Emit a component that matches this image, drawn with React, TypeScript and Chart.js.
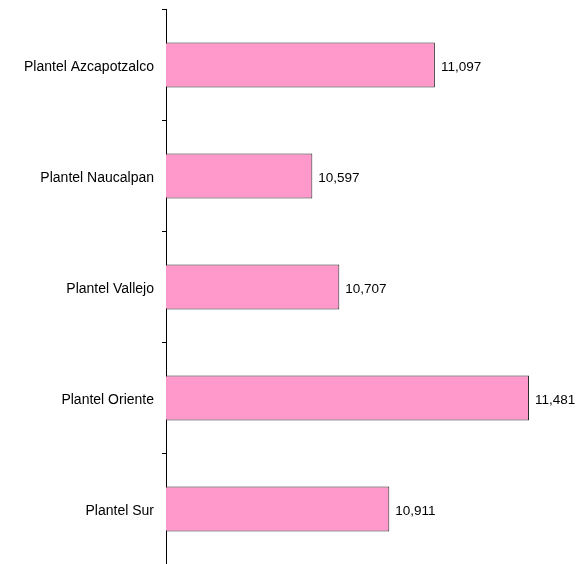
import React, { useEffect, useRef } from "react";
import { Chart, registerables } from "chart.js";

Chart.register(...registerables);

const categories = [
  "Plantel Azcapotzalco",
  "Plantel Naucalpan",
  "Plantel Vallejo",
  "Plantel Oriente",
  "Plantel Sur",
];
const values = [11097, 10597, 10707, 11481, 10911];
const xMin = 10000;
const xMax = 11700;

const FONT = "Arial, 'Liberation Sans', sans-serif";

const valueLabels = {
  id: "valueLabels",
  afterDatasetsDraw(chart: any) {
    const ctx = chart.ctx;
    const meta = chart.getDatasetMeta(0);
    ctx.save();
    ctx.font = `13.5px ${FONT}`;
    ctx.fillStyle = "#000";
    ctx.textAlign = "left";
    ctx.textBaseline = "middle";
    meta.data.forEach((bar: any, i: number) => {
      const v = chart.data.datasets[0].data[i] as number;
      ctx.fillText(v.toLocaleString("en-US"), bar.x + 6, bar.y + 2);
    });
    ctx.restore();
  },
};

export default function App() {
  const ref = useRef<HTMLCanvasElement>(null);
  useEffect(() => {
    if (!ref.current) return;
    const chart = new Chart(ref.current, {
      type: "bar",
      data: {
        labels: categories,
        datasets: [
          {
            data: values,
            backgroundColor: "#FF99CC",
            borderColor: "#2a2a2a",
            borderWidth: 1,
            barPercentage: 0.405,
            categoryPercentage: 1,
          },
        ],
      },
      options: {
        indexAxis: "y",
        animation: false,
        responsive: false,
        layout: { padding: { top: 9.5, bottom: 15.5, right: 5.3, left: 0 } },
        plugins: { legend: { display: false }, tooltip: { enabled: false } },
        scales: {
          x: {
            display: false,
            min: xMin,
            max: xMax,
          },
          y: {
            afterFit(scale: any) {
              scale.width = 166;
              scale.paddingTop = 0;
              scale.paddingBottom = 0;
            },
            grid: {
              drawOnChartArea: false,
              tickLength: 4,
              color: "#000",
              offset: true,
            },
            border: { color: "#000", width: 1 },
            ticks: {
              color: "#000",
              font: { family: FONT, size: 14 },
              padding: 8,
              labelOffset: 2,
            },
          },
        },
      },
      plugins: [valueLabels],
    });
    return () => chart.destroy();
  }, []);
  return (
    <div
      style={{
        position: "fixed",
        left: 0,
        top: 0,
        width: 588,
        height: 564,
        overflow: "hidden",
        background: "#fff",
      }}
    >
      <canvas ref={ref} width={588} height={580} style={{ width: 588, height: 580 }} />
    </div>
  );
}
